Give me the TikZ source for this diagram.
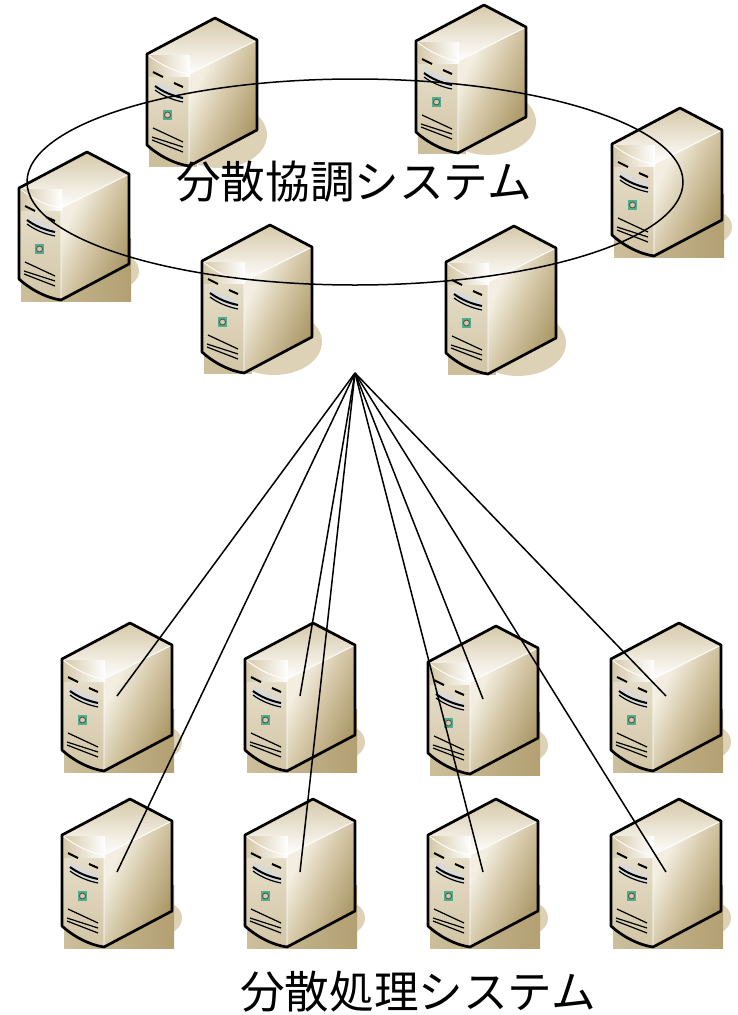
\documentclass[tikz,border=0pt]{standalone}
\usepackage{fontspec}
\newfontfamily\cjk{Noto Sans CJK JP}
\usetikzlibrary{positioning,shapes.geometric}
\definecolor{shadowtan}{HTML}{CDBF9C}
\definecolor{shadowpale}{HTML}{DDD2B5}
\definecolor{servermid}{HTML}{D6C9A9}
\definecolor{serverdark}{HTML}{AC9868}
\definecolor{serverpale}{HTML}{F3EEE1}
\definecolor{serverfront}{HTML}{D2C5A5}
\definecolor{serverled}{HTML}{4FAE8E}
\pgfdeclarehorizontalshading{serverside}{100bp}{
    color(0bp)=(serverpale); color(32bp)=(serverpale);
    color(48bp)=(servermid); color(72bp)=(serverdark); color(100bp)=(serverdark)}
\newcommand{\serverbody}{
    \begin{scope}
        \clip (0,0) -- (68,-36) -- (110,-14) -- (110,76) -- (42,112)
            .. controls (28,110) and (12,102) .. (0,91) -- cycle;
        \shade[top color=servermid,bottom color=white] (0,-36) rectangle (110,20);
        \shade[shading=serverside,shading angle=-25]
            (42,20) -- (110,-14) -- (110,76) -- (42,113) -- cycle;
        \shade[top color=serverpale!70!servermid,bottom color=serverfront]
            (0,0) .. controls (12,10) and (28,18) .. (42,20) -- (42,113) -- (0,113) -- cycle;
        \shade[left color=servermid,right color=white] (2,1) rectangle (43,22);
    \end{scope}
    \draw[white,line width=0.9pt] (0,0) .. controls (12,10) and (28,18) .. (42,20)
        -- (110,-14) (42,20) -- (42,112);
    % drive bay
    \fill[white!85!black] (8,27) -- (36,40) -- (36,50) -- (8,38) -- cycle;
    \draw[thick slit] (6,18) -- (16,23) (27,29) -- (36,33);
    \draw[thick slit] (8,32) .. controls (16,38) and (26,42) .. (36,44);
    \draw[slit] (8,36) .. controls (16,42) and (26,46) .. (36,48);
    % lamp
    \fill[serverled] (16,56) rectangle (25,66);
    \draw[black!70,line width=0.8pt,fill=servermid] (20.5,61) circle (3pt);
    % vents
    \draw[slit] (6,74) -- (36,88);
    \draw[slit] (5,83) -- (36,93);
    \draw[slit] (5,86) -- (36,98);
    % outline
    \draw[outline] (0,0) -- (68,-36) -- (110,-14) -- (110,76) -- (42,112)
        .. controls (28,110) and (12,102) .. (0,91) -- cycle;
    \coordinate (-port) at (55,37);
}
\tikzset{
system/.style={x=1pt,y=-1pt,line join=round},
caption/.style={font=\cjk\fontsize{44.6}{44.6}\selectfont,inner sep=0pt},
ring/.style={ellipse,draw,line width=1.5pt,inner sep=0pt,minimum width=656pt,minimum height=206pt},
link/.style={line width=1.5pt},
outline/.style={draw=black,line width=2.7pt},
slit/.style={draw=black,line width=1.2pt},
thick slit/.style={draw=black,line width=2pt},
server/.pic={
    \fill[shadowpale] (99,83) ellipse (21pt and 17pt);
    \shade[left color=shadowtan,right color=serverdark!80!shadowtan] (2,50) rectangle (112,113);
    \serverbody
},
server round/.pic={
    \fill[shadowpale] (72,81) ellipse (48pt and 33pt);
    \fill[shadowtan] (2,50) rectangle (50,113);
    \serverbody
},
}
\begin{document}
\begin{tikzpicture}[system]
    \useasboundingbox (0,0) rectangle (737,1015);

    \pic (c1) at (147,54) {server round};
    \pic (c2) at (416,41) {server round};
    \pic (c3) at (612,144) {server};
    \pic (c4) at (19,188) {server};
    \pic (c5) at (202,261) {server round};
    \pic (c6) at (446,262) {server round};

    \pic (w1) at (62,659) {server};
    \pic (w2) at (245,659) {server};
    \pic (w3) at (428,662) {server};
    \pic (w4) at (611,659) {server};
    \pic (w5) at (62,835) {server};
    \pic (w6) at (245,835) {server};
    \pic (w7) at (428,835) {server};
    \pic (w8) at (611,835) {server};

    \node[ring] (coord) at (355,182) {};
    \coordinate (hub) at (355,373);

    \path[link]
        (hub) edge (w1-port)
              edge (w2-port)
              edge (w3-port)
              edge (w4-port)
              edge (w5-port)
              edge (w6-port)
              edge (w7-port)
              edge (w8-port)
    ;

    \node[caption] (coordlabel) at (354,182) {分散協調システム};
    \node[caption] (worklabel) at (418,992) {分散処理システム};
\end{tikzpicture}
\end{document}
